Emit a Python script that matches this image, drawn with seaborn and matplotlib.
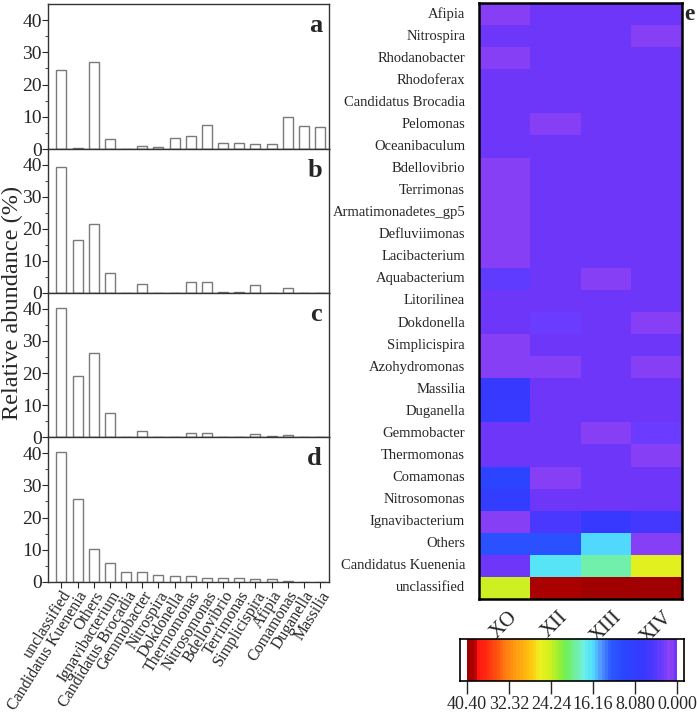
import numpy as np
import pandas as pd
import matplotlib
matplotlib.use("Agg")
import matplotlib.pyplot as plt
from matplotlib.colors import LinearSegmentedColormap
import seaborn as sns

# genera shown in the bar panels (same order in all four)
genera = ["unclassified", "Candidatus Kuenenia", "Others", "Ignavibacterium",
          "Candidatus Brocadia", "Gemmobacter", "Nitrospira", "Dokdonella",
          "Thermomonas", "Nitrosomonas", "Bdellovibrio", "Terrimonas",
          "Simplicispira", "Afipia", "Comamonas", "Duganella", "Massilia"]

abund_a = [24.5, 0.2, 27.0, 3.2, 0.0, 1.0, 0.7, 3.5, 4.0, 7.6, 2.0, 2.0,
           1.4, 1.4, 10.0, 7.0, 6.7]
abund_b = [39.3, 16.5, 21.7, 6.4, 0.0, 2.8, 0.0, 0.1, 3.5, 3.5, 0.2, 0.3,
           2.6, 0.0, 1.5, 0.1, 0.0]
abund_c = [40.2, 19.0, 26.2, 7.6, 0.1, 1.9, 0.05, 0.1, 1.2, 1.2, 0.1, 0.1,
           0.9, 0.3, 0.5, 0.1, 0.1]
abund_d = [40.2, 25.8, 10.2, 5.8, 3.2, 3.0, 2.1, 2.0, 1.9, 1.3, 1.1, 1.1,
           0.9, 0.8, 0.4, 0.1, 0.1]
panel_letters = ["a", "b", "c", "d"]

# heatmap (panel e)
heat_rows = ["Afipia", "Nitrospira", "Rhodanobacter", "Rhodoferax",
             "Candidatus Brocadia", "Pelomonas", "Oceanibaculum", "Bdellovibrio",
             "Terrimonas", "Armatimonadetes_gp5", "Defluviimonas", "Lacibacterium",
             "Aquabacterium", "Litorilinea", "Dokdonella", "Simplicispira",
             "Azohydromonas", "Massilia", "Duganella", "Gemmobacter", "Thermomonas",
             "Comamonas", "Nitrosomonas", "Ignavibacterium", "Others",
             "Candidatus Kuenenia", "unclassified"]
heat_cols = ["XO", "XII", "XIII", "XIV"]
heat_xo = [1.0, 0.2, 1.0, 0.0, 0.0, 0.0, 0.0, 1.0, 1.0, 1.0, 1.0, 1.0,
           3.5, 0.5, 0.5, 1.0, 1.0, 6.7, 7.0, 0.2, 0.5, 10.0, 7.6, 0.7,
           11.5, 0.6, 24.5]
heat_xii = [0.0, 0.0, 0.0, 0.0, 0.0, 1.0, 0.0, 0.0, 0.0, 0.0, 0.0, 0.0,
            0.0, 0.0, 3.0, 0.5, 1.0, 0.0, 0.0, 0.6, 0.6, 1.0, 0.6, 5.0,
            11.5, 16.5, 39.5]
heat_xiii = [0.0, 0.0, 0.0, 0.0, 0.0, 0.0, 0.0, 0.0, 0.0, 0.0, 0.0, 0.0,
             1.0, 0.0, 0.0, 0.0, 0.0, 0.0, 0.0, 1.1, 0.0, 0.0, 0.0, 6.5,
             16.2, 19.0, 40.2]
heat_xiv = [0.0, 1.2, 0.0, 0.0, 0.4, 0.0, 0.0, 0.0, 0.0, 0.0, 0.0, 0.0,
            0.0, 0.0, 1.0, 0.0, 1.0, 0.0, 0.0, 3.0, 1.0, 0.0, 0.0, 5.5,
            1.0, 25.8, 40.2]
cbar_ticks = [40.4, 32.32, 24.24, 16.16, 8.08, 0.0]
cbar_labels = ["40.40", "32.32", "24.24", "16.16", "8.080", "0.000"]

# rainbow-like map
vmax = 40.4
stops = [(0.0, "#6e36f8"), (1.0, "#9444f4"), (2.5, "#6c3cff"), (4.0, "#5038ff"),
         (6.0, "#3a38ff"), (10.0, "#2a44ff"), (12.5, "#2a58ff"), (14.5, "#5090ff"),
         (16.2, "#50e0ff"), (18.0, "#70f0e0"), (19.5, "#70f0a0"), (21.5, "#70f050"),
         (23.0, "#a0f030"), (24.5, "#d0f020"), (26.5, "#f0f020"), (28.5, "#ffc010"),
         (31.0, "#ffa010"), (33.0, "#ff8010"), (35.0, "#ff5010"), (37.0, "#ff2a10"),
         (38.8, "#ff1010"), (39.2, "#b00000"), (40.4, "#a00000")]
cmap = LinearSegmentedColormap.from_list("abund", [(v / vmax, c) for v, c in stops], N=64)

sns.set_style("ticks")
plt.rcParams["font.family"] = ["Liberation Serif", "DejaVu Serif"]
plt.rcParams["axes.linewidth"] = 1.0

W, H = 697, 712
fig = plt.figure(figsize=(W / 100, H / 100), dpi=100)


def px_axes(x0, y0, x1, y1):
    return fig.add_axes([x0 / W, 1 - y1 / H, (x1 - x0) / W, (y1 - y0) / H])


panel_tops = [4, 149, 293, 437]
panel_bots = [149, 293, 437, 582]
all_abund = [abund_a, abund_b, abund_c, abund_d]

for i, vals in enumerate(all_abund):
    ax = px_axes(48, panel_tops[i], 329, panel_bots[i])
    df = pd.DataFrame({"genus": genera, "abund": vals})
    sns.barplot(data=df, x="genus", y="abund", order=genera, color="white",
                edgecolor="#7a7a7a", linewidth=1.0, width=0.62, ax=ax)
    ax.set_xlim(-0.83, 16.55)
    ax.set_ylim(0, 45)
    ax.set_yticks([0, 10, 20, 30, 40])
    ax.set_yticks([5, 15, 25, 35], minor=True)
    ax.tick_params(axis="both", direction="out", length=4, width=0.8, labelsize=14, pad=0.5)
    ax.tick_params(axis="y", which="minor", length=2, width=0.6)
    ax.set_xlabel("")
    ax.set_ylabel("")
    for s in ax.spines.values():
        s.set_visible(True)
        s.set_color("#333333")
    ax.text(0.975, 0.93, panel_letters[i], transform=ax.transAxes, ha="right",
            va="top", fontsize=19, fontweight="bold")
    if i < 3:
        ax.set_xticklabels([])
    else:
        ax.set_xticks(range(len(genera)))
        ax.set_xticklabels(genera, rotation=58, ha="right", rotation_mode="anchor",
                           fontsize=11.5)

fig.text(12.2 / W, 1 - 303 / H, "Relative abundance (%)", rotation=90, ha="center",
         va="center", fontsize=17.5)

# heatmap
heat = pd.DataFrame({"XO": heat_xo, "XII": heat_xii, "XIII": heat_xiii, "XIV": heat_xiv},
                    index=heat_rows)[heat_cols]
hax = px_axes(479, 3, 682, 599)
cax = px_axes(467, 639, 677, 681)
sns.heatmap(heat, cmap=cmap, vmin=0, vmax=vmax, ax=hax, cbar_ax=cax,
            cbar_kws={"orientation": "horizontal"})
hax.tick_params(axis="y", length=0, pad=10)
hax.tick_params(axis="x", length=0, pad=6)
hax.set_yticklabels(heat_rows, rotation=0, fontsize=10.5)
hax.set_xticklabels(heat_cols, rotation=45, fontsize=15, ha="center")
for s in hax.spines.values():
    s.set_visible(True)
    s.set_linewidth(1.8)
    s.set_color("black")
hax.text(1.012, 0.998, "e", transform=hax.transAxes, ha="left", va="top",
         fontsize=17, fontweight="bold")

cbar = hax.collections[0].colorbar
cbar.ax.invert_xaxis()
cbar.set_ticks(cbar_ticks)
cbar.set_ticklabels(cbar_labels)
cbar.ax.tick_params(direction="out", length=9, width=1.0, labelsize=13, pad=2)
cbar.outline.set_visible(False)

# frame around colour bar with small white margins
box = px_axes(460, 639, 684, 681)
box.set_xticks([])
box.set_yticks([])
box.patch.set_alpha(0)
for s in box.spines.values():
    s.set_linewidth(1.2)
    s.set_color("black")

fig.savefig("out.png", dpi=100)
